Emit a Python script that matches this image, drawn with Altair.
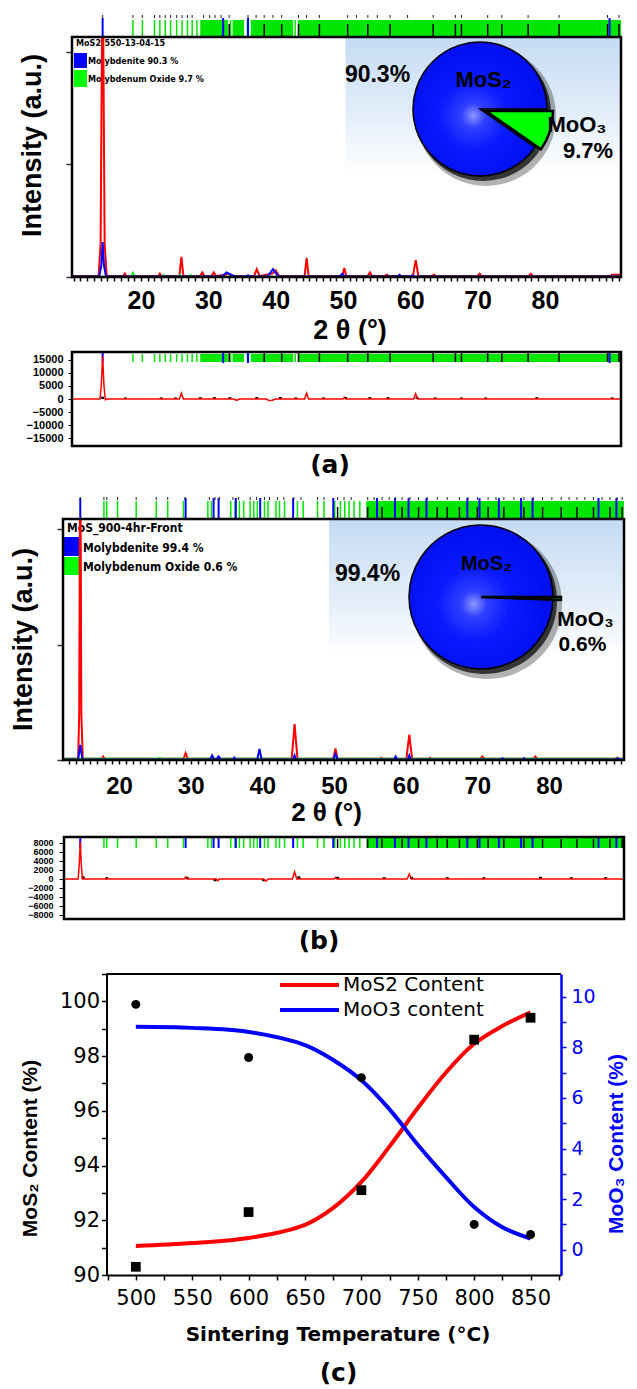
import math
import altair as alt
import pandas as pd

# ======================= DATA =======================
# ---- (a) MoS2-550-13-04-15 : XRD profiles (2theta, relative intensity) ----
A_OBS = [(9.75, 0.01), (13.7, 0.01), (14.0, 0.3), (14.3, 3.0), (14.6, 0.3), (14.9, 0.01),
         (17.4, 0.01), (17.6, 0.03), (17.8, 0.01), (22.6, 0.01), (22.8, 0.03), (23.0, 0.01),
         (25.7, 0.01), (26.0, 0.18), (26.3, 0.01), (28.8, 0.01), (29.1, 0.04), (29.4, 0.01),
         (30.5, 0.01), (30.8, 0.04), (31.1, 0.01), (32.5, 0.02), (33.0, 0.03), (33.5, 0.01),
         (36.8, 0.01), (37.2, 0.07), (37.6, 0.01), (39.5, 0.03), (40.0, 0.06), (40.5, 0.01),
         (44.3, 0.01), (44.6, 0.17), (44.9, 0.01), (49.9, 0.01), (50.2, 0.08), (50.5, 0.01),
         (53.7, 0.01), (54.0, 0.04), (54.3, 0.01), (56.2, 0.01), (56.5, 0.02), (56.8, 0.01),
         (60.4, 0.01), (60.8, 0.15), (61.2, 0.01), (63.2, 0.01), (63.5, 0.02), (63.8, 0.01),
         (70.0, 0.01), (70.3, 0.03), (70.6, 0.01), (77.6, 0.01), (77.9, 0.03), (78.2, 0.01),
         (89.6, 0.01), (90.0, 0.02), (91.3, 0.02)]
A_MOS2 = [(9.75, 0.005), (13.8, 0.005), (14.1, 0.1), (14.3, 0.31), (14.5, 0.1), (14.8, 0.005),
          (32.0, 0.005), (32.7, 0.04), (33.4, 0.02), (34.0, 0.005), (35.5, 0.005), (35.9, 0.015),
          (36.3, 0.005), (38.8, 0.005), (39.6, 0.07), (40.4, 0.005), (49.5, 0.005), (49.9, 0.03),
          (50.3, 0.005), (58.1, 0.005), (58.4, 0.02), (58.7, 0.005), (60.0, 0.005), (60.3, 0.015),
          (60.6, 0.005), (91.3, 0.005)]
A_MOO3 = [(9.75, 0.004), (18.5, 0.004), (18.8, 0.04), (19.1, 0.004), (23.2, 0.004), (23.4, 0.02),
          (23.6, 0.004), (25.6, 0.004), (25.8, 0.02), (26.0, 0.004), (27.2, 0.004), (27.4, 0.02),
          (27.6, 0.004), (91.3, 0.004)]
A_DIFF = [(9.75, 0), (13.9, 0), (14.1, 5000), (14.3, 16500), (14.5, 5000), (14.7, -300), (15.0, 0),
          (25.7, 0), (26.0, 2200), (26.3, 0), (33.8, 0), (34.2, -500), (34.6, 0), (38.6, 0),
          (39.0, -600), (39.5, -500), (40.0, 0), (44.3, 0), (44.6, 2200), (44.9, 0), (50.0, 0),
          (50.2, 600), (50.4, 0), (60.5, 0), (60.8, 2000), (61.1, 0), (91.3, 0)]
A_DIFF_MARKS_X = [14.3, 17.7, 23.0, 25.1, 28.8, 30.9, 33.2, 37.2, 40.7, 43.0, 47.1, 50.4, 54.0,
                  56.7, 61.0, 63.7, 67.6, 71.2, 78.8, 90.0]
A_DIFF_MARKS_H = [900, 600, 600, 600, 700, 700, 700, 800, 800, 600, 600, 800, 700, 700, 800,
                  600, 600, 600, 700, 600]
A_GREEN_LINES = [18.8, 20.2, 22.0, 22.8, 23.6, 24.4, 25.3, 26.1, 26.9, 27.6, 28.3, 33.3, 35.8, 42.9]
A_GREEN_BAND_START = [28.8, 33.6, 36.3, 43.3]
A_GREEN_BAND_END = [32.9, 35.3, 42.6, 91.3]
A_BLUE_LINES = [14.3, 32.2, 35.9, 89.6]
A_BLACK_LINES = [33.1, 38.3, 40.9, 43.4, 46.5, 50.7, 53.7, 57.0, 63.4, 66.7, 67.6, 71.5, 73.6,
                 77.5, 82.1, 89.3, 91.0]
A_GLYPHS = [14.3, 18.8, 20.2, 22.0, 22.8, 23.6, 24.4, 25.3, 26.1, 26.9, 27.6, 29.3, 30.2, 31.0,
            31.9, 33.1, 35.9, 37.1, 38.3, 39.6, 40.9, 43.4, 44.6, 46.5, 50.7, 52.0, 53.7, 55.1,
            57.0, 59.6, 63.4, 66.7, 67.6, 71.5, 73.6, 77.5, 82.1, 89.3, 91.0]
A_PIE_PHASE = ["MoO3", "MoS2"]
A_PIE_PCT = [9.7, 90.3]

# ---- (b) MoS_900-4hr-Front ----
B_OBS = [(12.19, 0.01), (14.3, 0.01), (14.45, 0.4), (14.6, 3.0), (14.75, 0.4), (14.95, 0.01),
         (17.6, 0.01), (17.8, 0.03), (18.0, 0.01), (29.0, 0.01), (29.3, 0.06), (29.6, 0.01),
         (44.1, 0.01), (44.5, 0.31), (44.9, 0.01), (49.9, 0.01), (50.2, 0.10), (50.5, 0.01),
         (56.4, 0.01), (56.6, 0.02), (56.8, 0.01), (60.1, 0.01), (60.5, 0.22), (60.9, 0.01),
         (63.2, 0.01), (63.4, 0.02), (63.6, 0.01), (70.4, 0.01), (70.7, 0.03), (71.0, 0.01),
         (77.8, 0.01), (78.1, 0.03), (78.4, 0.01), (89.2, 0.01), (89.5, 0.02), (89.8, 0.01),
         (90.46, 0.01)]
B_MOS2 = [(12.19, 0.005), (14.3, 0.005), (14.6, 0.13), (14.9, 0.005), (32.7, 0.005), (33.0, 0.04),
          (33.3, 0.005), (33.6, 0.005), (33.9, 0.03), (34.2, 0.005), (35.9, 0.005), (36.1, 0.02),
          (36.3, 0.005), (39.3, 0.005), (39.6, 0.095), (39.9, 0.005), (44.3, 0.005), (44.5, 0.04),
          (44.7, 0.005), (49.9, 0.005), (50.2, 0.05), (50.5, 0.005), (58.4, 0.005), (58.6, 0.03),
          (58.8, 0.005), (60.3, 0.005), (60.5, 0.04), (60.7, 0.005), (73.3, 0.005), (73.5, 0.015),
          (73.7, 0.005), (76.3, 0.005), (76.5, 0.015), (76.7, 0.005), (89.3, 0.005), (89.6, 0.015),
          (89.9, 0.005), (90.46, 0.005)]
B_MOO3 = [(12.19, 0.012), (25.5, 0.012), (25.7, 0.02), (25.9, 0.012), (90.46, 0.012)]
B_DIFF = [(12.19, 0), (14.3, 0), (14.45, 3000), (14.6, 8300), (14.75, 3000), (14.9, 0), (29.1, 0),
          (29.3, 400), (29.5, 0), (33.6, 0), (33.8, -400), (34.0, 0), (40.2, 0), (40.5, -500),
          (40.8, 0), (44.2, 0), (44.5, 1600), (44.8, 0), (50.0, 0), (50.2, 300), (50.4, 0),
          (60.2, 0), (60.5, 1100), (60.8, 0), (90.46, 0)]
B_DIFF_MARKS_X = [15.0, 18.3, 29.5, 33.4, 40.2, 45.1, 50.5, 57.0, 60.8, 65.8, 70.9, 78.8, 83.1, 87.9]
B_DIFF_MARKS_H = [600, 400, 500, -500, -500, 600, 500, 400, 500, 400, 400, 500, 400, 400]
B_GREEN_LINES = [17.9, 18.3, 19.8, 22.4, 25.2, 26.8, 29.0, 32.4, 32.9, 35.6, 36.2, 36.8, 37.4,
                 38.3, 38.8, 39.3, 40.3, 40.8, 41.9, 42.4, 43.1, 44.9, 45.7, 47.7, 48.6, 50.1,
                 50.9, 51.5, 52.1, 52.8, 53.6]
B_GREEN_BAND_START = [54.5]
B_GREEN_BAND_END = [90.46]
B_BLUE_LINES = [14.6, 29.3, 33.2, 33.9, 36.3, 39.7, 44.3, 49.9, 56.0, 58.5, 60.4, 62.9, 68.6,
                70.3, 73.0, 76.1, 77.7, 86.9, 89.4]
B_BLACK_LINES = [50.5, 54.7, 56.7, 59.5, 61.8, 64.4, 65.8, 67.5, 70.0, 71.5, 73.7, 76.5, 79.1,
                 81.7, 83.9, 86.2, 88.5, 90.2]
B_GLYPHS = [14.6, 17.9, 18.3, 19.8, 22.4, 25.2, 26.8, 29.2, 32.6, 33.4, 34.0, 35.9, 36.7, 38.3,
            39.2, 40.3, 41.0, 42.1, 43.0, 44.4, 45.4, 47.7, 48.6, 50.5, 51.4, 52.4, 54.7, 55.6,
            56.7, 57.7, 58.6, 59.5, 60.6, 61.8, 63.0, 64.4, 65.8, 67.5, 68.7, 70.0, 71.5, 72.6,
            73.7, 75.1, 76.5, 77.8, 79.1, 80.4, 81.7, 82.8, 83.9, 85.0, 86.2, 87.4, 88.5, 89.5, 90.2]
B_PIE_PHASE = ["MoO3", "MoS2"]
B_PIE_PCT = [0.6, 99.4]

# ---- (c) content vs sintering temperature ----
C_TEMP = [500, 600, 700, 800, 850]
C_MOS2_PTS = [90.3, 92.3, 93.1, 98.6, 99.4]
C_MOO3_PTS = [9.7, 7.6, 6.8, 1.0, 0.6]
C_FIT_T = [500, 550, 600, 650, 675, 700, 725, 750, 775, 800, 825, 850]
C_MOS2_FIT = [91.06, 91.17, 91.35, 91.83, 92.45, 93.4, 94.7, 96.1, 97.4, 98.45, 99.1, 99.6]
C_MOO3_FIT = [8.81, 8.77, 8.61, 8.09, 7.5, 6.7, 5.55, 4.15, 2.87, 1.69, 0.89, 0.44]

# ---- ticks ----
XRD_TICKS_A = list(range(10, 92))
XRD_TICKS_B = list(range(13, 91))
INT_TICKS = [0, 1, 2]
RES_TICKS_A = [-15000, -10000, -5000, 0, 5000, 10000, 15000]
RES_TICKS_B = [-8000, -6000, -4000, -2000, 0, 2000, 4000, 6000, 8000]
C_XTICKS = list(range(475, 876, 25))
C_LTICKS = list(range(90, 102))
C_RTICKS = list(range(0, 11))

# ======================= STYLE / HELPERS =======================
ONE = pd.DataFrame({"d": [0]})
LIB = "Liberation Sans, Arial, Helvetica, sans-serif"
DJV = "DejaVu Sans, Verdana, sans-serif"
COND = "DejaVu Sans Condensed, Liberation Sans Narrow, Liberation Sans, sans-serif"
RED = "#ff0000"
BLUE = "#0000ff"
GREEN = "#00e600"

BG_GRAD = alt.LinearGradient(
    gradient="linear",
    stops=[alt.GradientStop(offset=0, color="#c5dbf3"),
           alt.GradientStop(offset=0.55, color="#e2edf9"),
           alt.GradientStop(offset=1, color="#ffffff")],
    x1=0, x2=0, y1=0, y2=1)
PIE_GRAD = alt.RadialGradient(
    gradient="radial",
    stops=[alt.GradientStop(offset=0, color="#8c97ff"),
           alt.GradientStop(offset=0.18, color="#3040ff"),
           alt.GradientStop(offset=0.5, color="#0a1aff"),
           alt.GradientStop(offset=1, color="#0010f0")],
    x1=0.45, y1=0.55, r1=0, x2=0.45, y2=0.55, r2=0.5)


def extent(top, bottom):
    return alt.Chart(ONE).mark_rule(opacity=0).encode(
        x=alt.value(-63), x2=alt.value(574), y=alt.value(top), y2=alt.value(bottom))


def box_rect(x1, x2, y1, y2, **kw):
    return alt.Chart(ONE).mark_rect(**kw).encode(
        x=alt.value(x1), x2=alt.value(x2), y=alt.value(y1), y2=alt.value(y2))


def frame(x1, x2, h):
    return box_rect(x1, x2, 0, h, fill="transparent", stroke="black", strokeWidth=2.5)


def text(s, x, y, size, font=LIB, weight="bold", color="black", align="center", baseline="middle"):
    return alt.Chart(ONE).mark_text(
        text=s, font=font, fontSize=size, fontWeight=weight, color=color,
        align=align, baseline=baseline).encode(x=alt.value(x), y=alt.value(y))


TEN_LABELS = "datum.value % 10 == 0 && datum.value >= 20 && datum.value <= 80 ? datum.label : ''"


def xrd_x(domain, rng, ticks, label_size=24, label_pad=8, title_x=0, title_y=0, title_size=28):
    sc = alt.Scale(domain=domain, range=rng, nice=False, zero=False)
    if ticks is None:
        ax = alt.Axis(labels=False, ticks=False, domain=False, grid=False, title="")
    else:
        ax = alt.Axis(values=ticks, labelExpr=TEN_LABELS, labelFont=LIB, labelFontSize=label_size,
                      labelFontWeight="bold", labelColor="black", labelPadding=label_pad,
                      labelOverlap=False, labelFlush=False, labelBound=False,
                      tickSize=4, tickWidth=1.5, tickColor="black", domain=False, grid=False,
                      title="2 θ (°)", titleFont=LIB, titleFontSize=title_size,
                      titleFontWeight="bold", titleColor="black", titleX=title_x,
                      titleY=title_y, titleAlign="center", titleBaseline="alphabetic", zindex=1)
    return alt.X("x:Q", scale=sc, axis=ax)


def int_y(top, offset, tx, ty):
    return alt.Y("y:Q", scale=alt.Scale(domain=[0, top], nice=False, zero=False),
                 axis=alt.Axis(values=INT_TICKS, labels=False, tickSize=6, tickWidth=1.5,
                               tickColor="#333333", domain=False, grid=False, offset=offset,
                               title="Intensity (a.u.)", titleFont=LIB, titleFontSize=27,
                               titleFontWeight="bold", titleColor="black", titleAngle=270,
                               titleX=tx, titleY=ty, titleAlign="center",
                               titleBaseline="alphabetic"))


def res_y(domain, ticks, size, offset, pad):
    return alt.Y("y:Q", scale=alt.Scale(domain=domain, nice=False, zero=False),
                 axis=alt.Axis(values=ticks, format="d", labelFont=LIB, labelFontSize=size,
                               labelFontWeight="bold", labelColor="black", labelPadding=pad,
                               labelOverlap=False, labelFlush=False, labelBound=False,
                               tickSize=4, tickWidth=1, tickColor="black", domain=False,
                               grid=False, offset=offset, title=""))


def rules_at(pos, X, y1, y2, color, width):
    return alt.Chart(pd.DataFrame({"x": pos})).mark_rule(color=color, strokeWidth=width).encode(
        x=X, y=alt.value(y1), y2=alt.value(y2))


def bands_at(starts, ends, X, y1, y2, color):
    return alt.Chart(pd.DataFrame({"x": starts, "x2": ends})).mark_rect(color=color).encode(
        x=X, x2=alt.X2("x2"), y=alt.value(y1), y2=alt.value(y2))


def markers(X, green_lines, bs, be, blue, black, glyphs, g, b, k, gl=None):
    layers = [bands_at(bs, be, X, g[0], g[1], GREEN),
              rules_at(green_lines, X, g[0], g[1], GREEN, 1.5),
              rules_at(black, X, k[0], k[1], "black", 1.5),
              rules_at(blue, X, b[0], b[1], BLUE, 2)]
    if glyphs is not None:
        layers.append(rules_at(glyphs, X, gl[0], gl[1], "#222222", 1))
    return layers


def profile(pairs, X, Y, color, width, clip=False):
    df = pd.DataFrame(pairs, columns=["x", "y"])
    return alt.Chart(df).mark_line(color=color, strokeWidth=width, clip=clip).encode(x=X, y=Y)


def stubs(xs, hs, X, Y):
    df = pd.DataFrame({"x": xs, "y": [0] * len(xs), "y2": hs})
    return alt.Chart(df).mark_rule(color="black", strokeWidth=3).encode(x=X, y=Y, y2=alt.Y2("y2"))


def pie(phases, pcts, cx, cy, r, gx, gy, gr):
    df = pd.DataFrame({"phase": phases, "pct": pcts, "ord": [0, 1]})
    th = alt.Theta("pct:Q", stack=True,
                   scale=alt.Scale(range=[math.pi / 2, math.pi / 2 + 2 * math.pi]))
    base = alt.Chart(df).encode(theta=th, order=alt.Order("ord:Q"))
    sh2 = base.mark_arc(radius=r + 3, color="#000000", opacity=0.3).encode(
        x=alt.value(cx + 6), y=alt.value(cy + 7))
    sh1 = base.mark_arc(radius=r + 1, color="#000000", opacity=0.7).encode(
        x=alt.value(cx + 3), y=alt.value(cy + 4))
    blue = base.mark_arc(radius=r, fill=PIE_GRAD, stroke="black", strokeWidth=1.5).encode(
        x=alt.value(cx), y=alt.value(cy),
        opacity=alt.when(alt.datum.phase == "MoS2").then(alt.value(1)).otherwise(alt.value(0)))
    green = base.mark_arc(radius=gr, fill="#00ff00", stroke="black", strokeWidth=2.5).encode(
        x=alt.value(gx), y=alt.value(gy),
        opacity=alt.when(alt.datum.phase == "MoO3").then(alt.value(1)).otherwise(alt.value(0)))
    return [sh2, sh1, blue, green]


# ======================= ROW 1 : (a) main =======================
XA = xrd_x([9.75, 91.3], [9, 558], XRD_TICKS_A, 25, 7, 286.5, 61, 27)
YA = int_y(2.133, -9, -32, 108)
row1 = alt.layer(
    extent(-37, 309),
    box_rect(282.5, 558, 0, 138, fill=BG_GRAD),
    *markers(XA, A_GREEN_LINES, A_GREEN_BAND_START, A_GREEN_BAND_END, A_BLUE_LINES,
             A_BLACK_LINES, A_GLYPHS, g=(-17, 0), b=(-19, 0), k=(-13, 0), gl=(-22, -19)),
    box_rect(11, 24, 16, 31, fill=BLUE),
    box_rect(11, 24, 33, 50, fill="#00ff00"),
    text("MoS2-550-13-04-15", 13, 6, 9, font=COND, align="left"),
    text("Molybdenite 90.3 %", 25, 24, 9, font=COND, align="left"),
    text("Molybdenum Oxide 9.7 %", 25, 42, 9, font=COND, align="left"),
    profile(A_OBS, XA, YA, RED, 2, clip=True),
    profile(A_MOO3, XA, YA, GREEN, 1.5),
    profile(A_MOS2, XA, YA, BLUE, 2),
    *pie(A_PIE_PHASE, A_PIE_PCT, 417, 72, 67, 423, 74, 67),
    text("90.3%", 314.5, 38, 23),
    text("MoS₂", 420.5, 43, 22),
    text("MoO₃", 514, 88, 22),
    text("9.7%", 525, 114, 22),
    frame(9, 558, 240),
).properties(width=558, height=240)

# ======================= ROW 2 : (a) residual =======================
XAR = xrd_x([9.75, 91.3], [9, 558], None)
YAR = res_y([-18000, 18000], RES_TICKS_A, 11, -9, 5)
row2 = alt.layer(
    extent(-6, 130),
    *markers(XAR, A_GREEN_LINES, A_GREEN_BAND_START, A_GREEN_BAND_END, A_BLUE_LINES,
             A_BLACK_LINES, None, g=(2, 10), b=(0, 11), k=(1, 10)),
    stubs(A_DIFF_MARKS_X, A_DIFF_MARKS_H, XAR, YAR),
    profile(A_DIFF, XAR, YAR, RED, 1.5),
    frame(9, 558, 94),
    text("(a)", 267, 113, 25, font=DJV),
).properties(width=558, height=94)

# ======================= ROW 3 : (b) main =======================
XB = xrd_x([12.19, 90.46], [0, 561], XRD_TICKS_B, 24, 10, 263, 60, 26)
YB = int_y(2.087, 0, -32, 120)
row3 = alt.layer(
    extent(-37, 307),
    box_rect(266, 561, 0, 140, fill=BG_GRAD),
    *markers(XB, B_GREEN_LINES, B_GREEN_BAND_START, B_GREEN_BAND_END, B_BLUE_LINES,
             B_BLACK_LINES, B_GLYPHS, g=(-18, 0), b=(-21, 0), k=(-12, 0), gl=(-22, -19)),
    box_rect(0, 17, 18, 37, fill=BLUE),
    box_rect(0, 17, 38, 56, fill="#00ff00"),
    text("MoS_900-4hr-Front", 4, 9, 12, font=COND, align="left"),
    text("Molybdenite 99.4 %", 20, 29, 12, font=COND, align="left"),
    text("Molybdenum Oxide 0.6 %", 20, 48, 12, font=COND, align="left"),
    profile(B_OBS, XB, YB, RED, 2, clip=True),
    profile(B_MOO3, XB, YB, GREEN, 1.5),
    profile(B_MOS2, XB, YB, BLUE, 2),
    *pie(B_PIE_PHASE, B_PIE_PCT, 418, 78, 72, 418, 78, 80),
    text("99.4%", 304.5, 54.6, 23),
    text("MoS₂", 423.5, 45, 20),
    text("MoO₃", 522.5, 100.5, 21),
    text("0.6%", 519.5, 125.5, 21),
    frame(0, 561, 241),
).properties(width=561, height=241)

# ======================= ROW 4 : (b) residual =======================
XBR = xrd_x([12.19, 90.46], [0, 561], None)
YBR = res_y([-8889, 9333], RES_TICKS_B, 9, 0, 6)
row4 = alt.layer(
    extent(-11, 123),
    *markers(XBR, B_GREEN_LINES, B_GREEN_BAND_START, B_GREEN_BAND_END, B_BLUE_LINES,
             B_BLACK_LINES, None, g=(1, 11), b=(0, 11), k=(2, 11)),
    stubs(B_DIFF_MARKS_X, B_DIFF_MARKS_H, XBR, YBR),
    profile(B_DIFF, XBR, YBR, RED, 1.5),
    frame(1, 561, 82),
    text("(b)", 256, 104, 25, font=DJV),
).properties(width=561, height=82)

# ======================= ROW 5 : (c) =======================
XC = alt.X("t:Q", scale=alt.Scale(domain=[474, 877], range=[43.5, 498], nice=False, zero=False),
           axis=alt.Axis(values=C_XTICKS, labelExpr="datum.value % 50 == 0 ? datum.label : ''",
                         labelFont=DJV, labelFontSize=21, labelColor="black", labelPadding=7,
                         labelOverlap=False, labelFlush=False, labelBound=False,
                         tickSize=5, tickWidth=1.5, tickColor="black", domainColor="black",
                         domainWidth=2, grid=False, title="Sintering Temperature (°C)",
                         titleFont=DJV, titleFontSize=20, titleFontWeight="bold",
                         titleColor="black", titleX=274.5, titleY=65, titleAlign="center",
                         titleBaseline="alphabetic", zindex=1))
YL = alt.Y("v:Q", scale=alt.Scale(domain=[90, 101], nice=False, zero=False),
           axis=alt.Axis(values=C_LTICKS, labelExpr="datum.value % 2 == 0 ? datum.label : ''",
                         offset=-43.5, labelFont=DJV, labelFontSize=21, labelColor="black",
                         labelPadding=2, labelOverlap=False, labelFlush=False, labelBound=False,
                         tickSize=5, tickWidth=1.5, tickColor="black", domainColor="black",
                         domainWidth=2, grid=False, title="MoS₂ Content (%)", titleFont=LIB,
                         titleFontSize=21, titleFontWeight="bold", titleColor="black",
                         titleAngle=270, titleX=-69.8, titleY=174, titleAlign="center",
                         titleBaseline="alphabetic", zindex=1))
YR = alt.Y("w:Q", scale=alt.Scale(domain=[-1, 10.9], nice=False, zero=False),
           axis=alt.Axis(orient="right", values=C_RTICKS,
                         labelExpr="datum.value % 2 == 0 ? datum.label : ''",
                         labelFont=DJV, labelFontSize=19, labelColor="blue", labelPadding=5,
                         labelOverlap=False, labelFlush=False, labelBound=False,
                         tickSize=5, tickWidth=1.5, tickColor="blue", domainColor="blue",
                         domainWidth=2.5, grid=False, title="MoO₃ Content (%)", titleFont=LIB,
                         titleFontSize=21, titleFontWeight="bold", titleColor="blue",
                         titleAngle=270, titleX=61.5, titleY=169.5, titleAlign="center",
                         titleBaseline="alphabetic", zindex=1))

fit_df = pd.DataFrame({"t": C_FIT_T, "v": C_MOS2_FIT, "w": C_MOO3_FIT})
pts_df = pd.DataFrame({"t": C_TEMP, "v": C_MOS2_PTS, "w": C_MOO3_PTS})

left = alt.layer(
    alt.Chart(fit_df).mark_line(color=RED, strokeWidth=4, interpolate="catmull-rom").encode(x=XC, y=YL),
    alt.Chart(pts_df).mark_square(size=95, color="black", opacity=1).encode(x=XC, y=YL),
)
right = alt.layer(
    alt.Chart(fit_df).mark_line(color=BLUE, strokeWidth=4, interpolate="catmull-rom").encode(x=XC, y=YR),
    alt.Chart(pts_df).mark_circle(size=80, color="black", opacity=1).encode(x=XC, y=YR),
)
row5 = alt.layer(
    extent(-14, 415),
    alt.Chart(ONE).mark_rule(color="black", strokeWidth=2).encode(
        x=alt.value(43.5), x2=alt.value(498), y=alt.value(0)),
    left,
    right,
    alt.Chart(ONE).mark_rule(color=RED, strokeWidth=4).encode(
        x=alt.value(217), x2=alt.value(276), y=alt.value(11)),
    alt.Chart(ONE).mark_rule(color=BLUE, strokeWidth=4).encode(
        x=alt.value(217), x2=alt.value(276), y=alt.value(36)),
    text("MoS2 Content", 280, 11, 20, font=DJV, weight="normal", align="left"),
    text("MoO3 content", 280, 36, 20, font=DJV, weight="normal", align="left"),
    text("(c)", 275.5, 399, 25, font=DJV),
).resolve_scale(y="independent").properties(width=498, height=301)

chart = alt.vconcat(row1, row2, row3, row4, row5, spacing=0).properties(
    padding=0, background="white"
).configure_view(stroke="transparent", strokeWidth=0)

chart.save("out.html", embed_options={"renderer": "svg", "actions": False})
